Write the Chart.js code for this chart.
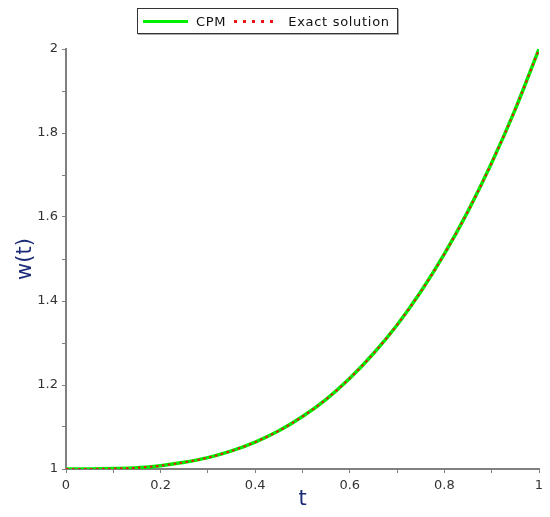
<!DOCTYPE html>
<html>
<head>
  <meta charset="UTF-8">
  <title>CPM vs Exact solution</title>
  <style>
    body {
      margin: 0;
      padding: 0;
      overflow: hidden;
      background: #fff;
    }

    #wrap {
      position: relative;
      width: 550px;
      height: 517px;
    }

    #legend {
      position: absolute;
      left: 137px;
      top: 8px;
      width: 259px;
      height: 24px;
      border: 1.5px solid #333;
      box-shadow: 1px 1px 0 #aaa;
      font-family: "DejaVu Sans", sans-serif;
      font-size: 13px;
      letter-spacing: 0.7px;
      color: #111;
      display: flex;
      align-items: center;
      background: #fff;
      z-index: 2;
    }

    .sample {
      display: inline-block;
      height: 3px;
    }

    #chart-container {
      position: absolute;
      left: 0;
      top: 0;
      width: 550px;
      height: 517px;
    }
  </style>
  <script src="https://cdn.jsdelivr.net/npm/chart.js"></script>
</head>
<body>
  <div id="wrap">
    <div id="legend">
      <span class="sample" style="width: 45px; margin: 0 8px 0 5px; background: #00ee00;"></span>CPM
      <span class="sample" style="width: 42px; margin: 0 12px 0 8px;
        background: repeating-linear-gradient(to right, #ee1111 0 3px, transparent 3px 9px);"></span>Exact solution
    </div>
    <div id="chart-container">
      <canvas id="chart"></canvas>
    </div>
  </div>

  <script>
    // values
    var tValues = [0, 0.05, 0.1, 0.15, 0.2, 0.25, 0.3, 0.35, 0.4, 0.45, 0.5,
                   0.55, 0.6, 0.65, 0.7, 0.75, 0.8, 0.85, 0.9, 0.95, 1];
    var cpmValues = [1, 1.0001, 1.001, 1.003, 1.008, 1.016, 1.027, 1.043, 1.064, 1.091, 1.125,
                     1.166, 1.216, 1.275, 1.343, 1.422, 1.512, 1.614, 1.729, 1.857, 2];
    var exactValues = [1, 1.0001, 1.001, 1.003, 1.008, 1.016, 1.027, 1.043, 1.064, 1.091, 1.125,
                       1.166, 1.216, 1.275, 1.343, 1.422, 1.512, 1.614, 1.729, 1.857, 2];
    var xLabels = [0, 0.2, 0.4, 0.6, 0.8, 1];
    var yLabels = [1, 1.2, 1.4, 1.6, 1.8, 2];

    function toPoints(ys) {
      var pts = [];
      for (var i = 0; i < tValues.length; i++) {
        pts.push({ x: tValues[i], y: ys[i] });
      }
      return pts;
    }

    function labelIf(list) {
      return function (value) {
        for (var i = 0; i < list.length; i++) {
          if (Math.abs(list[i] - value) < 1e-6) return String(list[i]);
        }
        return '';
      };
    }

    var axisColor = '#808080';
    var tickFont = { family: 'DejaVu Sans', size: 13 };
    var titleColor = '#1a2a78';

    var ctx = document.getElementById('chart').getContext('2d');
    var chart = new Chart(ctx, {
      type: 'line',
      data: {
        datasets: [{
          label: 'CPM',
          data: toPoints(cpmValues),
          borderColor: '#00ee00',
          borderWidth: 3.5,
          pointRadius: 0,
          order: 2,
          cubicInterpolationMode: 'monotone'
        }, {
          label: 'Exact solution',
          data: toPoints(exactValues),
          borderColor: '#ee1111',
          borderWidth: 2,
          borderDash: [2.5, 3.5],
          pointRadius: 0,
          order: 1,
          cubicInterpolationMode: 'monotone'
        }]
      },
      options: {
        responsive: true,
        maintainAspectRatio: false,
        animation: false,
        layout: { padding: { top: 49, right: 11, left: 0, bottom: 0 } },
        plugins: {
          legend: { display: false },
          tooltip: { enabled: false }
        },
        scales: {
          x: {
            type: 'linear',
            min: 0,
            max: 1,
            afterFit: function (s) { s.height = 48; },
            ticks: {
              stepSize: 0.1,
              autoSkip: false,
              maxRotation: 0,
              padding: 5,
              color: '#333',
              font: tickFont,
              callback: labelIf(xLabels)
            },
            grid: { drawOnChartArea: false, color: axisColor, tickLength: 4 },
            border: { color: axisColor, width: 2 },
            title: {
              display: true,
              text: 't',
              color: titleColor,
              font: { family: 'DejaVu Sans', size: 21 },
              padding: { top: 0, bottom: 5 }
            }
          },
          y: {
            min: 1,
            max: 2,
            afterFit: function (s) { s.width = 66; },
            ticks: {
              stepSize: 0.1,
              autoSkip: false,
              padding: 4,
              color: '#333',
              font: tickFont,
              callback: labelIf(yLabels)
            },
            grid: { drawOnChartArea: false, color: axisColor, tickLength: 4 },
            border: { color: axisColor, width: 2 },
            title: {
              display: true,
              text: 'w(t)',
              color: titleColor,
              font: { family: 'DejaVu Sans', size: 21 },
              padding: { top: 13, bottom: 4 }
            }
          }
        }
      }
    });
  </script>
</body>
</html>
